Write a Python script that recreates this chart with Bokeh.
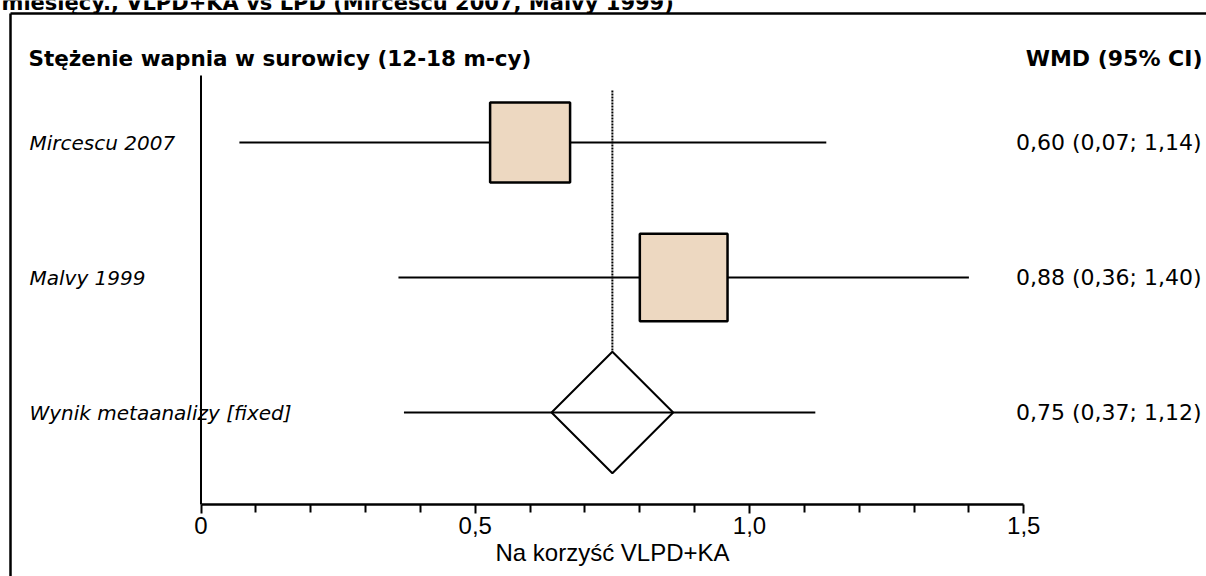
from bokeh.plotting import figure
from bokeh.models import Range1d, LinearAxis, FixedTicker
from bokeh.core.properties import value
from bokeh.embed import file_html
from bokeh.resources import INLINE
from math import pi, sqrt

# ---------------- data ----------------
studies = ["Mircescu 2007", "Malvy 1999", "Wynik metaanalizy [fixed]"]
wmd = [0.60, 0.88, 0.75]
ci_low = [0.07, 0.36, 0.37]
ci_high = [1.14, 1.40, 1.12]
weights = [45.4, 54.6]          # % weight of the two studies (box area)
tick_values = [0, 0.5, 1.0, 1.5]
tick_labels = ["0", "0,5", "1,0", "1,5"]
minor_values = [0.1, 0.2, 0.3, 0.4, 0.6, 0.7, 0.8, 0.9, 1.1, 1.2, 1.3, 1.4]
header = "Stężenie wapnia w surowicy (12-18 m-cy)"
col_header = "WMD (95% CI)"
x_label = "Na korzyść VLPD+KA"
top_caption = "miesięcy., VLPD+KA vs LPD (Mircescu 2007, Malvy 1999)"

ci_text = [("%.2f (%.2f; %.2f)" % (m, l, h)).replace(".", ",")
           for m, l, h in zip(wmd, ci_low, ci_high)]
rows = [1, 2, 3]

# ---------------- layout ----------------
W, H = 1206, 576
PX_PER_X = 548.5
X0_PX = 200.5
PX_PER_ROW = 135.0
ROW1_PX = 142.0
YTOP = 1 - ROW1_PX / PX_PER_ROW


def fx(px):
    return (px - X0_PX) / PX_PER_X


def fy(py):
    return YTOP + py / PX_PER_ROW


p = figure(width=W, height=H,
           x_range=Range1d(fx(0), fx(W)),
           y_range=Range1d(fy(H), fy(0)),
           x_axis_type=None, y_axis_type=None,
           toolbar_location=None, output_backend="svg",
           min_border=0, min_border_left=0, min_border_right=0,
           min_border_top=0, min_border_bottom=0)
p.outline_line_color = None
p.background_fill_color = "white"
p.border_fill_color = "white"

FONT = value("DejaVu Sans")

# cut-off caption at the very top
p.text(x=[fx(1)], y=[fy(2)], text=[top_caption], text_font=FONT,
       text_font_size="21px", text_font_style="bold",
       text_baseline="alphabetic", text_align="left", text_color="black")

# frame border (left and top)
p.segment(x0=[fx(10), fx(10)], y0=[fy(13), fy(13)], x1=[fx(10), fx(1400)],
          y1=[fy(700), fy(13)], line_color="black", line_width=2.5)

# headers
p.text(x=[fx(28)], y=[fy(57.5)], text=[header], text_font=FONT,
       text_font_size="21.5px", text_font_style="bold",
       text_baseline="middle", text_align="left", text_color="black")
p.text(x=[fx(1202)], y=[fy(57.5)], text=[col_header], text_font=FONT,
       text_font_size="22px", text_font_style="bold",
       text_baseline="middle", text_align="right", text_color="black")

AXIS_Y = fy(504)

# vertical line at 0
p.segment(x0=[0], y0=[fy(75)], x1=[0], y1=[AXIS_Y],
          line_color="black", line_width=2)

# dotted line at pooled estimate
DIAM_HALF = 61 / PX_PER_ROW
p.segment(x0=[wmd[2]], y0=[fy(90)], x1=[wmd[2]], y1=[rows[2] - DIAM_HALF],
          line_color="black", line_width=2, line_dash="2 1")

# CI lines
p.segment(x0=ci_low, y0=rows, x1=ci_high, y1=rows,
          line_color="black", line_width=2)

# study boxes
sizes = [11.87 * sqrt(w) for w in weights]
p.scatter(x=wmd[:2], y=rows[:2], size=sizes, marker="square",
          fill_color="#EDD8C1", line_color="black", line_width=2.5)

# pooled diamond
p.scatter(x=[wmd[2]], y=[rows[2]], size=86, marker="square", angle=pi / 4,
          fill_alpha=0, line_color="black", line_width=2)

# row labels
p.text(x=[fx(29)] * 3, y=rows, text=studies, text_font=FONT,
       text_font_size="20px", text_font_style="italic",
       text_baseline="middle", text_align="left", text_color="black")

# CI text
p.text(x=[fx(1201)] * 3, y=rows, text=ci_text, text_font=FONT,
       text_font_size="22px", text_baseline="middle", text_align="right",
       text_color="black")

# x axis
ax = LinearAxis(fixed_location=AXIS_Y, bounds=(0, 1.5),
                ticker=FixedTicker(ticks=tick_values, minor_ticks=minor_values))
ax.major_label_overrides = {t: l for t, l in zip(tick_values, tick_labels)}
ax.axis_line_width = 2.5
ax.axis_line_color = "black"
ax.major_tick_line_color = "black"
ax.minor_tick_line_color = "black"
ax.major_tick_line_width = 2
ax.minor_tick_line_width = 2
ax.major_tick_in = 0
ax.major_tick_out = 9
ax.minor_tick_in = 0
ax.minor_tick_out = 8
ax.major_label_text_font = "Liberation Sans"
ax.major_label_text_font_size = "24px"
ax.major_label_text_color = "black"
ax.major_label_standoff = 3
ax.axis_label = x_label
ax.axis_label_text_font = "Liberation Sans"
ax.axis_label_text_font_size = "24px"
ax.axis_label_text_font_style = "normal"
ax.axis_label_text_color = "black"
ax.axis_label_standoff = 2
p.add_layout(ax, "below")

open("out.html", "w").write(file_html(p, INLINE))
